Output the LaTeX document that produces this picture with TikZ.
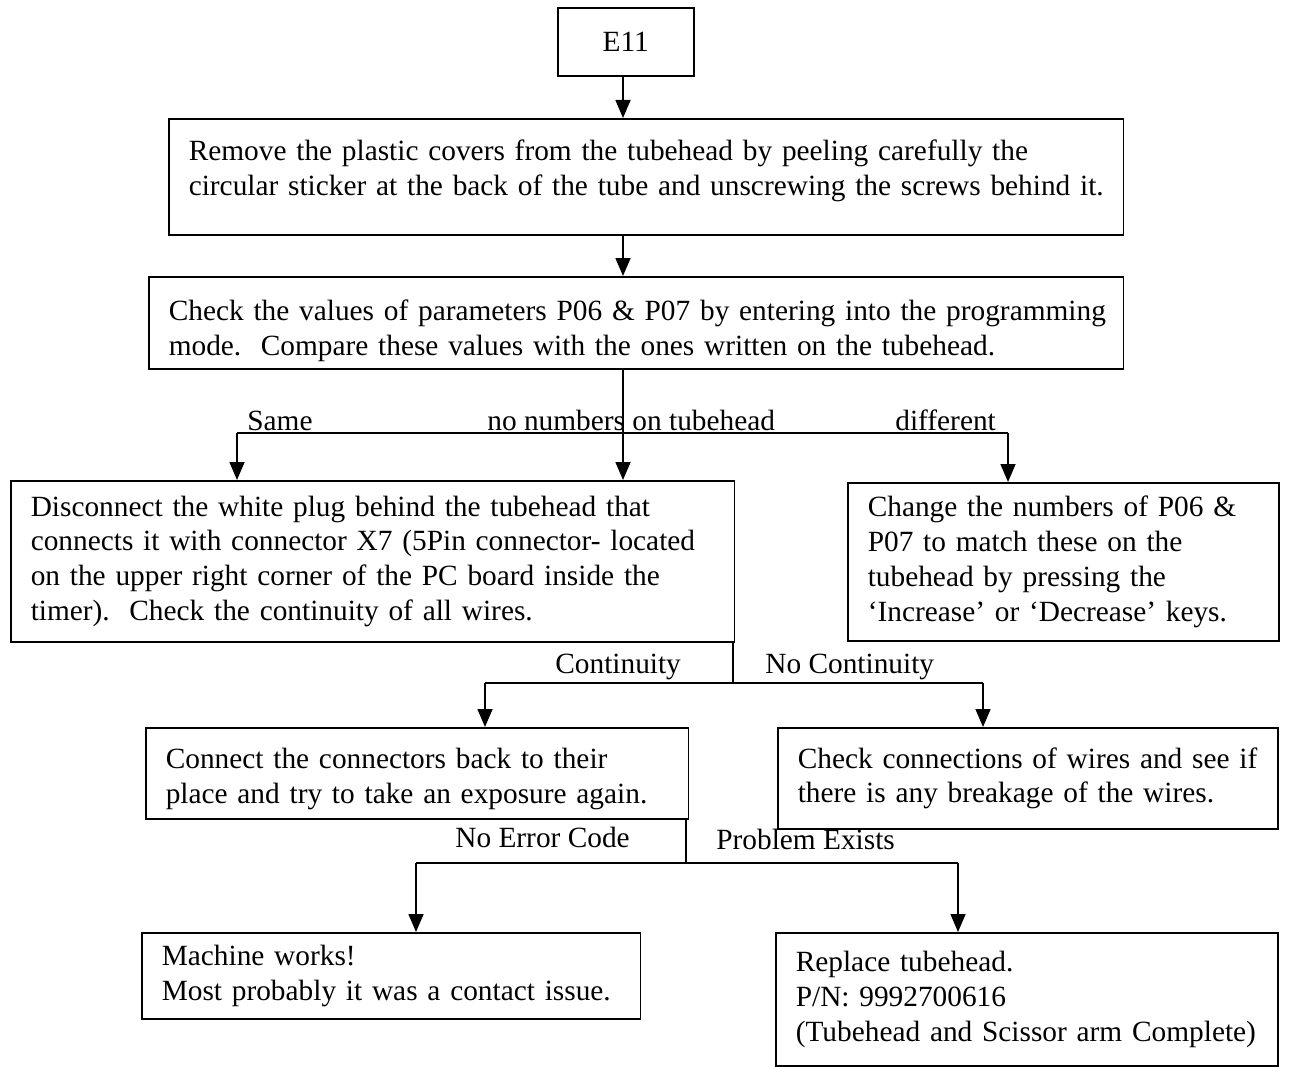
\documentclass[tikz,border=0pt]{standalone}
\usepackage{fontspec}
\setmainfont{Liberation Serif}
\usetikzlibrary{arrows.meta,calc}
\begin{document}
\begin{tikzpicture}[x=0.02cm,y=-0.02cm,
  every node/.style={font=\fontsize{16.7}{19.8}\selectfont},
  box/.style={draw,line width=0.9pt,rectangle,anchor=north west,inner xsep=0.4cm,inner ysep=0pt,align=left},
  lbl/.style={anchor=base west,inner sep=0pt},
  conn/.style={line width=0.9pt},
  arr/.style={line width=0.9pt,-{Triangle[length=0.36cm,width=0.3cm]}}]
\useasboundingbox (0,0) rectangle (1297,1067);
% boxes
\node[box,minimum width=2.72cm,minimum height=1.36cm,align=center,inner xsep=0pt] (e11) at (557,7) {E11};
\node[box,minimum width=19.1cm,minimum height=2.32cm,text width=18.3cm] (b2) at (168,118)
  {\mbox{Remove the plastic covers from the tubehead by peeling carefully the}\\\mbox{circular sticker at the back of the tube and unscrewing the screws behind it.}\rule[-0.37cm]{0pt}{0pt}};
\node[box,minimum width=19.5cm,minimum height=1.84cm,text width=18.7cm] (b3) at (148,276)
  {\rule{0pt}{0.72cm}\mbox{Check the values of parameters P06 \& P07 by entering into the programming}\\\mbox{mode.\ \ Compare these values with the ones written on the tubehead.}};
\node[box,minimum width=14.48cm,minimum height=3.22cm,text width=13.68cm] (b4) at (10,480)
  {Disconnect the white plug behind the tubehead that\\connects it with connector X7 (5Pin connector- located\\on the upper right corner of the PC board inside the\\timer).\ \ Check the continuity of all wires.};
\node[box,minimum width=8.62cm,minimum height=3.16cm,text width=7.82cm] (b5) at (847,482)
  {Change the numbers of P06 \&\\P07 to match these on the\\tubehead by pressing the\\`Increase' or `Decrease' keys.};
\node[box,minimum width=10.86cm,minimum height=1.82cm,text width=10.06cm] (b6) at (145,727)
  {\rule{0pt}{0.62cm}Connect the connectors back to their\\place and try to take an exposure again.};
\node[box,minimum width=10cm,minimum height=2.02cm,text width=9.2cm] (b7) at (777,727)
  {Check connections of wires and see if\\there is any breakage of the wires.};
\node[box,minimum width=9.98cm,minimum height=1.72cm,text width=9.18cm] (b8) at (141,932)
  {Machine works!\\Most probably it was a contact issue.};
\node[box,minimum width=10.04cm,minimum height=2.66cm,text width=9.24cm] (b9) at (775,932)
  {Replace tubehead.\\P/N: 9992700616\\(Tubehead and Scissor arm Complete)};
% junction coordinates
\coordinate (j1) at (623,433);
\coordinate (j1l) at (237,433);
\coordinate (j1r) at (1008,433);
\coordinate (j2) at (733,683);
\coordinate (j2l) at (485,683);
\coordinate (j2r) at (983,683);
\coordinate (j3) at (686,863);
\coordinate (j3l) at (416,863);
\coordinate (j3r) at (958,863);
% connectors
\draw[arr] (e11.south -| j1) -- (b2.north -| j1);
\draw[arr] (b2.south -| j1) -- (b3.north -| j1);
\draw[arr] (b3.south -| j1) -- (b4.north -| j1);
\draw[conn] (j1l) -- (j1r);
\draw[arr] (j1l) -- (j1l |- b4.north);
\draw[arr] (j1r) -- (j1r |- b5.north);
\draw[conn] (b4.south -| j2) -- (j2);
\draw[conn] (j2l) -- (j2r);
\draw[arr] (j2l) -- (j2l |- b6.north);
\draw[arr] (j2r) -- (j2r |- b7.north);
\draw[conn] (b6.south -| j3) -- (j3);
\draw[conn] (j3l) -- (j3r);
\draw[arr] (j3l) -- (j3l |- b8.north);
\draw[arr] (j3r) -- (j3r |- b9.north);
% labels
\node[lbl] (lsame) at (247,430) {Same};
\node[lbl] (lnonum) at (487,430) {no numbers on tubehead};
\node[lbl] (ldiff) at (895,430) {different};
\node[lbl] (lcont) at (555,673) {Continuity};
\node[lbl] (lnocont) at (765,673) {No Continuity};
\node[lbl] (lnoerr) at (455,847) {No Error Code};
\node[lbl] (lprob) at (716,849) {Problem Exists};
\end{tikzpicture}
\end{document}
